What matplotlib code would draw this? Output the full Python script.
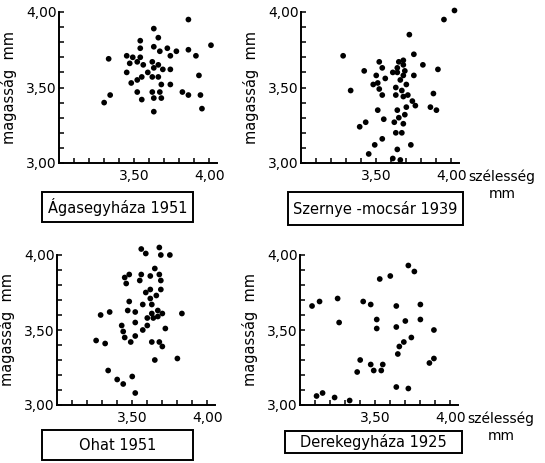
import matplotlib
matplotlib.use("Agg")
import matplotlib.pyplot as plt
import numpy as np
from matplotlib.patches import Rectangle
from matplotlib.ticker import FixedLocator, FuncFormatter

# data: width (szélesség) and height (magasság), mm
aga_x = [3.30, 3.33, 3.34, 3.45, 3.49, 3.47, 3.54, 3.54, 3.54, 3.52, 3.56, 3.45, 3.48, 3.52, 3.55, 3.59,
         3.52, 3.55, 3.63, 3.66, 3.63, 3.67, 3.62, 3.63, 3.66, 3.69, 3.62, 3.66, 3.68, 3.62, 3.67, 3.63,
         3.68, 3.63, 3.72, 3.74, 3.78, 3.74, 3.74, 3.86, 3.86, 3.91, 4.01, 3.93, 3.82, 3.86, 3.94, 3.95]
aga_y = [3.40, 3.69, 3.45, 3.71, 3.70, 3.66, 3.81, 3.76, 3.70, 3.67, 3.65, 3.60, 3.53, 3.55, 3.57, 3.60,
         3.47, 3.42, 3.89, 3.83, 3.77, 3.74, 3.67, 3.63, 3.65, 3.62, 3.57, 3.57, 3.52, 3.47, 3.47, 3.43,
         3.43, 3.34, 3.76, 3.71, 3.74, 3.62, 3.52, 3.95, 3.75, 3.71, 3.78, 3.58, 3.47, 3.45, 3.45, 3.36]

sze_x = [3.28, 3.33, 3.42, 3.50, 3.48, 3.51, 3.52, 3.52, 3.54, 3.56, 3.54, 3.51, 3.55, 3.43, 3.39, 3.54,
         3.49, 3.45, 3.61, 3.66, 3.64, 3.63, 3.67, 3.62, 3.68, 3.65, 3.69, 3.64, 3.70, 3.74, 3.76, 3.68,
         3.71, 3.63, 3.67, 3.63, 3.70, 3.66, 3.61, 3.64, 3.64, 3.65, 3.68, 3.68, 3.69, 3.68, 3.75, 3.75,
         3.81, 3.72, 3.91, 3.88, 3.86, 3.90, 3.73, 3.95, 4.02]
sze_y = [3.71, 3.48, 3.61, 3.58, 3.52, 3.53, 3.49, 3.67, 3.63, 3.56, 3.45, 3.35, 3.29, 3.27, 3.24, 3.16,
         3.12, 3.06, 3.03, 3.02, 3.09, 3.20, 3.20, 3.27, 3.26, 3.30, 3.32, 3.35, 3.37, 3.41, 3.38, 3.44,
         3.45, 3.45, 3.48, 3.50, 3.52, 3.55, 3.60, 3.60, 3.63, 3.67, 3.68, 3.65, 3.61, 3.58, 3.58, 3.72,
         3.65, 3.85, 3.62, 3.46, 3.37, 3.35, 3.12, 3.95, 4.01]

oha_x = [3.26, 3.32, 3.29, 3.35, 3.34, 3.40, 3.44, 3.50, 3.52, 3.43, 3.44, 3.45, 3.49, 3.52, 3.52, 3.47,
         3.52, 3.48, 3.45, 3.46, 3.48, 3.55, 3.56, 3.56, 3.59, 3.57, 3.59, 3.62, 3.62, 3.63, 3.66, 3.67,
         3.60, 3.60, 3.57, 3.63, 3.64, 3.67, 3.70, 3.69, 3.69, 3.68, 3.65, 3.62, 3.68, 3.69, 3.75, 3.72,
         3.63, 3.68, 3.70, 3.65, 3.80, 3.83]
oha_y = [3.43, 3.41, 3.60, 3.62, 3.23, 3.17, 3.14, 3.19, 3.08, 3.53, 3.49, 3.45, 3.42, 3.46, 3.55, 3.63,
         3.62, 3.69, 3.85, 3.81, 3.87, 3.83, 3.87, 4.04, 4.01, 3.67, 3.75, 3.71, 3.77, 3.67, 3.73, 3.63,
         3.58, 3.53, 3.50, 3.61, 3.58, 3.59, 3.61, 3.77, 3.83, 3.87, 3.91, 3.86, 4.05, 4.00, 4.00, 3.51,
         3.42, 3.42, 3.39, 3.30, 3.31, 3.61]

der_x = [3.08, 3.13, 3.25, 3.26, 3.11, 3.15, 3.23, 3.33, 3.38, 3.40, 3.42, 3.47, 3.47, 3.49, 3.53, 3.51,
         3.51, 3.54, 3.55, 3.60, 3.64, 3.64, 3.65, 3.66, 3.69, 3.70, 3.74, 3.64, 3.72, 3.72, 3.76, 3.80,
         3.80, 3.89, 3.86, 3.89]
der_y = [3.66, 3.69, 3.71, 3.55, 3.06, 3.08, 3.05, 3.03, 3.22, 3.30, 3.69, 3.67, 3.27, 3.23, 3.84, 3.57,
         3.51, 3.23, 3.27, 3.86, 3.66, 3.52, 3.34, 3.39, 3.42, 3.56, 3.45, 3.12, 3.11, 3.93, 3.89, 3.67,
         3.57, 3.50, 3.28, 3.31]

names = ["Ágasegyháza 1951", "Szernye -mocsár 1939", "Ohat 1951", "Derekegyháza 1925"]
x_major = [3.5, 4.0]
y_major = [3.0, 3.5, 4.0]

W, H = 545, 463
fig = plt.figure(figsize=(W / 100, H / 100), dpi=100)

def px(left, top, width, height):
    # pixel box (from top-left) -> figure fraction
    return [left / W, 1 - (top + height) / H, width / W, height / H]

comma = FuncFormatter(lambda v, p: "{:.2f}".format(v).replace(".", ","))

ax_boxes = [px(59, 12, 158, 151), px(301, 12, 158, 151),
            px(57, 255, 158, 150), px(300, 255, 158, 150)]
label_boxes = [(42, 192, 151, 30), (288, 192, 175, 33),
               (42, 430, 151, 30), (285, 431, 177, 22)]
series = [(aga_x, aga_y), (sze_x, sze_y), (oha_x, oha_y), (der_x, der_y)]

for i, (xs, ys) in enumerate(series):
    ax = fig.add_axes(ax_boxes[i])
    ax.scatter(xs, ys, s=17, c="black", edgecolors="none", clip_on=False, zorder=3)
    ax.set_xlim(3.0, 4.05)
    ax.set_ylim(3.0, 4.0)
    for s in ["top", "right"]:
        ax.spines[s].set_visible(False)
    for s in ["left", "bottom"]:
        ax.spines[s].set_linewidth(1.4)
    ax.xaxis.set_major_locator(FixedLocator(x_major))
    ax.xaxis.set_minor_locator(FixedLocator(np.arange(3.1, 4.05, 0.1)))
    ax.yaxis.set_major_locator(FixedLocator(y_major))
    ax.yaxis.set_minor_locator(FixedLocator(np.arange(3.1, 4.0, 0.1)))
    ax.xaxis.set_major_formatter(comma)
    ax.yaxis.set_major_formatter(comma)
    ax.tick_params(which="both", direction="in", length=3.5, width=1.1, labelsize=10)
    ax.tick_params(axis="y", pad=1.5)
    ax.tick_params(axis="x", pad=4)
    ax.set_ylabel("magasság  mm", fontsize=10.5)
    ax.yaxis.set_label_coords(-0.265, 0.5)
    if i % 2 == 1:
        ax.text(1.06, -0.09, "szélesség", transform=ax.transAxes, fontsize=10,
                ha="left", va="center")
        ax.text(1.275, -0.205, "mm", transform=ax.transAxes, fontsize=10,
                ha="center", va="center")

    bl, bt, bw, bh = label_boxes[i]
    fig.add_artist(Rectangle((bl / W, 1 - (bt + bh) / H), bw / W, bh / H,
                             transform=fig.transFigure, fill=False,
                             edgecolor="black", linewidth=1.4))
    fig.text((bl + bw / 2) / W, 1 - (bt + bh / 2) / H, names[i], fontsize=10.5,
             ha="center", va="center")

fig.savefig("out.png", dpi=100)
